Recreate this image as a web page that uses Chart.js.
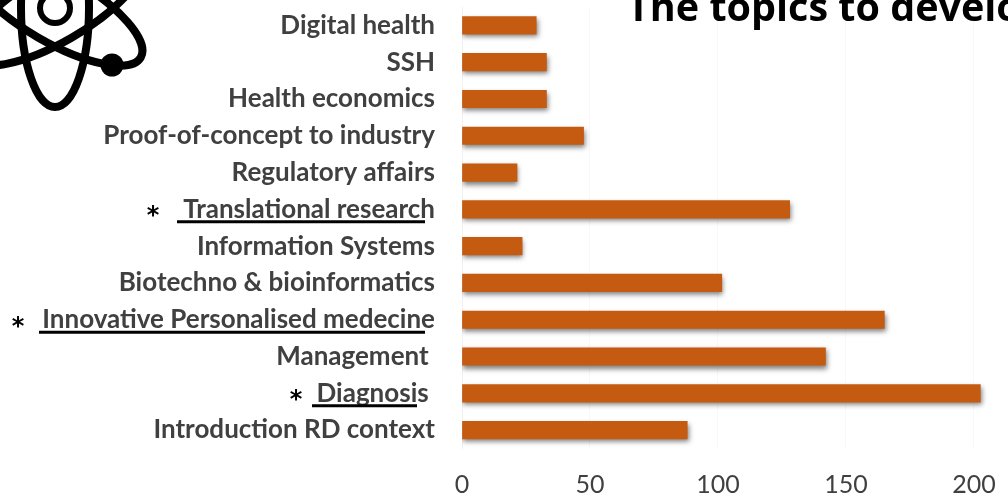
<!DOCTYPE html>
<html>
<head>
<meta charset="utf-8">
<style>
html, body { margin: 0; padding: 0; background: #fff; overflow: hidden; }
canvas { display: block; }
</style>
<script src="https://cdn.jsdelivr.net/npm/chart.js@4"></script>
</head>
<body>
<canvas id="chart" width="1008" height="494"></canvas>
<script>
// top to bottom, as they read on the slide
const topics = ['Digital health', 'SSH', 'Health economics', 'Proof-of-concept to industry', 'Regulatory affairs',
    'Translational research', 'Information Systems', 'Biotechno & bioinformatics', 'Innovative Personalised medecine',
    'Management ', 'Diagnosis ', 'Introduction RD context'];
const votes = [29, 33, 33, 47.5, 21.5, 128, 23.5, 101.5, 165, 142, 202.5, 88];
const xTicks = [0, 50, 100, 150, 200];
const starred = ['Translational research', 'Innovative Personalised medecine', 'Diagnosis '];
const titleText = 'The topics to develop';

// underline start/end and asterisk x for the starred labels
const starMarks = [
    { x1: 177, x2: 425, star: 153 },
    { x1: 39, x2: 425, star: 18 },
    { x1: 312, x2: 417, star: 296 }
];

// soft shadow under the bars, like the office chart
const barShadow = {
    id: 'barShadow',
    beforeDatasetDraw(chart) {
        const ctx = chart.ctx;
        ctx.save();
        ctx.shadowColor = 'rgba(0,0,0,0.5)';
        ctx.shadowBlur = 5;
        ctx.shadowOffsetX = 1;
        ctx.shadowOffsetY = 3;
    },
    afterDatasetDraw(chart) {
        chart.ctx.restore();
    }
};

// title, underlines, asterisks and the atom logo
const slideExtras = {
    id: 'slideExtras',
    afterDraw(chart) {
        const ctx = chart.ctx;
        const y = chart.scales.y;
        ctx.save();

        ctx.fillStyle = '#000';
        ctx.textAlign = 'left';
        ctx.textBaseline = 'alphabetic';
        ctx.font = 'bold 39.5px "Open Sans"';
        ctx.fillText(titleText, 627, 21);

        starred.forEach((name, i) => {
            const py = y.getPixelForValue(topics.indexOf(name));
            const m = starMarks[i];
            ctx.strokeStyle = '#000';
            ctx.lineWidth = 3;
            ctx.beginPath();
            ctx.moveTo(m.x1, py + 12.5);
            ctx.lineTo(m.x2, py + 12.5);
            ctx.stroke();
            ctx.fillStyle = '#000';
            ctx.textAlign = 'center';
            ctx.font = 'bold 24px "DejaVu Sans"';
            ctx.fillText('*', m.star, py + 14);
        });

        // atom
        ctx.strokeStyle = '#000';
        ctx.lineWidth = 8;
        [0, Math.PI / 3, -Math.PI / 3].forEach(rot => {
            ctx.beginPath();
            ctx.ellipse(55, 8, 34, 99, rot, 0, Math.PI * 2);
            ctx.stroke();
        });
        ctx.lineWidth = 6;
        ctx.beginPath();
        ctx.arc(55, 8, 15, 0, Math.PI * 2);
        ctx.stroke();
        ctx.fillStyle = '#000';
        ctx.beginPath();
        ctx.arc(112, 65, 11.5, 0, Math.PI * 2);
        ctx.fill();

        ctx.restore();
    }
};

new Chart(document.getElementById('chart'), {
    type: 'bar',
    data: {
        labels: topics,
        datasets: [{
            data: votes,
            backgroundColor: '#C55A11',
            borderWidth: 0,
            barThickness: 17.5
        }]
    },
    plugins: [barShadow, slideExtras],
    options: {
        indexAxis: 'y',
        responsive: false,
        animation: false,
        layout: { padding: { top: 7, left: 0, right: 0, bottom: 0 } },
        plugins: { legend: { display: false }, title: { display: false }, tooltip: { enabled: false } },
        scales: {
            x: {
                type: 'linear',
                min: 0,
                max: 213.3,
                afterBuildTicks(axis) {
                    axis.ticks = xTicks.map(value => ({ value }));
                },
                afterFit(axis) {
                    axis.height = 45.5;
                    axis.paddingLeft = 0;
                    axis.paddingRight = 0;
                },
                grid: { color: '#f8f8f8', drawTicks: false },
                border: { display: false },
                ticks: {
                    padding: 21,
                    autoSkip: false,
                    maxRotation: 0,
                    color: '#404040',
                    font: { family: 'Lato', size: 25 }
                }
            },
            y: {
                type: 'category',
                afterFit(axis) {
                    axis.width = 462;
                    axis.paddingTop = 0;
                    axis.paddingBottom = 0;
                },
                grid: { display: false, drawTicks: false },
                border: { color: '#f2f2f2' },
                ticks: {
                    padding: 27,
                    autoSkip: false,
                    color: '#404040',
                    font: { family: 'Lato', size: 26, weight: 'bold' }
                }
            }
        }
    }
});
</script>
</body>
</html>
